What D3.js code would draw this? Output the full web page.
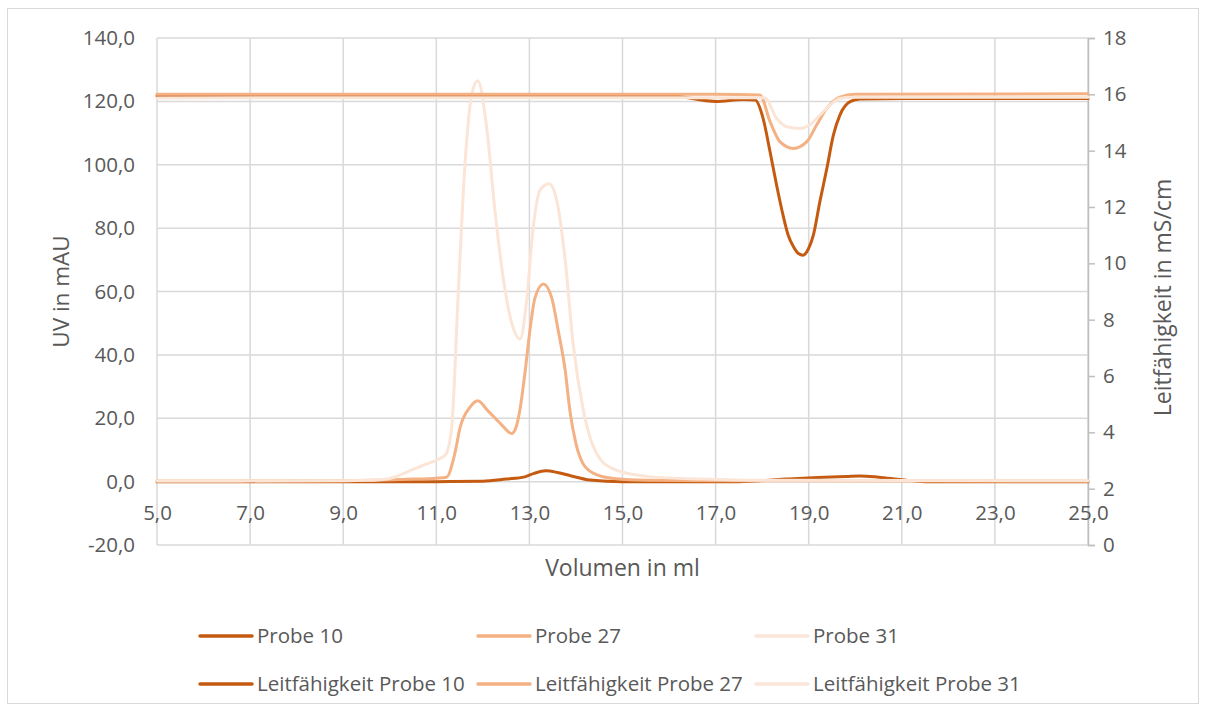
<!DOCTYPE html>
<html><head><meta charset="utf-8">
<script src="https://cdn.jsdelivr.net/npm/d3@7"></script>
<style>body{margin:0;background:#fff}svg{display:block}text{font-family:"Open Sans",Lato,sans-serif;fill:#595959}</style>
</head><body><svg id="c" width="1206" height="711"></svg>
<script>
// ---- data ----
const xTicks = [5,7,9,11,13,15,17,19,21,23,25];
const yLeftTicks = [-20,0,20,40,60,80,100,120,140];
const yRightTicks = [0,2,4,6,8,10,12,14,16,18];
const seriesNames = ["Probe 10","Probe 27","Probe 31"];
const condNames = ["Leitfähigkeit Probe 10","Leitfähigkeit Probe 27","Leitfähigkeit Probe 31"];

const uvVolume10 = [5,11,12,12.5,12.9,13.1,13.35,13.6,13.9,14.3,15,17.5,18.5,19.2,19.8,20.1,20.5,21.0,21.5,25];
const uvProbe10  = [0,0,0.1,0.8,1.5,2.6,3.4,2.9,1.8,0.5,0,0,0.8,1.3,1.6,1.8,1.4,0.6,0,0];

const uvVolume27 = [5,9,10.5,11.0,11.22,11.4,11.51,11.72,11.89,12.1,12.4,12.62,12.72,12.8,12.91,13.01,13.12,13.3,13.48,13.62,13.77,13.87,14.0,14.14,14.37,14.8,15.5,17,25];
const uvProbe27  = [0.2,0.3,0.8,1.1,1.4,9,17,23.4,25.5,22.5,18,15.2,17.5,23,35,47.6,58,62.4,58,47.6,35,22.4,12,6,2.7,1,0.4,0.3,0.2];

const uvVolume31 = [5,9,9.5,10,10.44,10.76,11.04,11.2,11.33,11.47,11.62,11.76,11.89,12.08,12.26,12.44,12.62,12.8,12.94,13.08,13.23,13.42,13.59,13.77,13.94,14.16,14.45,14.8,15.38,15.6,16.7,18,25];
const uvProbe31  = [0.2,0.3,0.4,1,3.5,5.4,7,8.5,17,59,101,122,126.5,112,85.5,64,50,45,57,80,92,94,88.6,69.7,43.4,22.4,8.7,4,1.9,1.5,0.8,0.4,0.3];

const condVolume10 = [5,14,16,17,17.6,17.85,18.02,18.17,18.31,18.45,18.56,18.67,18.78,18.88,18.99,19.1,19.24,19.39,19.53,19.67,19.89,20.1,21,25];
const condProbe10  = [15.95,15.95,15.95,15.75,15.82,15.8,15.15,13.96,12.78,11.7,11.0,10.6,10.35,10.29,10.5,11.0,12.19,13.37,14.55,15.26,15.74,15.83,15.85,15.85];

const condVolume27 = [5,10,15,17,17.95,18.17,18.38,18.67,18.96,19.17,19.39,19.67,20.0,25];
const condProbe27  = [16.0,16.0,16.0,16.0,15.98,15.03,14.32,14.08,14.32,14.91,15.5,15.9,16.0,16.02];

const condVolume31 = [5,10,15,17,18.05,18.31,18.53,18.81,19.02,19.24,19.46,19.67,19.95,25];
const condProbe31  = [15.87,15.88,15.88,15.88,15.88,15.15,14.85,14.79,14.91,15.26,15.62,15.85,15.9,15.9];

const colors = ["#C55A11","#F4B183","#FBE5D6"];

// ---- layout ----
const svg = d3.select("#c");
const L = 157, R = 1088, T = 38, B = 545;
const x = d3.scaleLinear().domain([5,25]).range([L,R]);
const yL = d3.scaleLinear().domain([-20,140]).range([B,T]);
const yR = d3.scaleLinear().domain([0,18]).range([B,T]);

svg.append("rect").attr("x",7.5).attr("y",8.5).attr("width",1191).attr("height",695)
  .attr("fill","#fff").attr("stroke","#d9d9d9").attr("stroke-width",1);

// gridlines
const g = svg.append("g");
g.selectAll(".vg").data(xTicks).join("line")
  .attr("x1",d=>x(d)).attr("x2",d=>x(d)).attr("y1",T).attr("y2",B)
  .attr("stroke","#d9d9d9").attr("stroke-width",1.5);
g.selectAll(".hg").data(yLeftTicks).join("line")
  .attr("x1",L).attr("x2",R).attr("y1",d=>yL(d)).attr("y2",d=>yL(d))
  .attr("stroke","#d9d9d9").attr("stroke-width",1.5);

const FS = 20.5;
// right axis
const rAxis = svg.append("g").attr("transform",`translate(${R},0)`)
  .call(d3.axisRight(yR).tickValues(yRightTicks).tickSize(7).tickPadding(8).tickFormat(d3.format("d")));
rAxis.select(".domain").attr("stroke","#bfbfbf").attr("stroke-width",1.5);
rAxis.selectAll(".tick line").attr("stroke","#bfbfbf").attr("stroke-width",1.5);
rAxis.selectAll("text").attr("font-size",FS).attr("fill","#595959").style("font-family","Open Sans");

// left axis labels
const fmt1 = d => d.toFixed(1).replace(".",",");
const lAxis = svg.append("g").attr("transform",`translate(${L},0)`)
  .call(d3.axisLeft(yL).tickValues(yLeftTicks).tickSize(0).tickPadding(22).tickFormat(fmt1));
lAxis.select(".domain").remove();
lAxis.selectAll("text").attr("font-size",FS).attr("fill","#595959").style("font-family","Open Sans");

// x axis labels, placed at y=0 line
const xAxis = svg.append("g").attr("transform",`translate(0,${yL(0)})`)
  .call(d3.axisBottom(x).tickValues(xTicks).tickSize(0).tickPadding(24).tickFormat(fmt1));
xAxis.select(".domain").remove();
xAxis.selectAll("text").attr("font-size",FS).attr("fill","#595959").style("font-family","Open Sans");

// titles
svg.append("text").attr("x",(L+R)/2).attr("y",576).attr("text-anchor","middle").attr("font-size",23).text("Volumen in ml");
svg.append("text").attr("transform",`translate(69,${(T+B)/2}) rotate(-90)`).attr("text-anchor","middle").attr("font-size",22.5).text("UV in mAU");
svg.append("text").attr("transform",`translate(1171,${(T+B)/2+6}) rotate(-90)`).attr("text-anchor","middle").attr("font-size",23).text("Leitfähigkeit in mS/cm");

// lines
const uvSets = [[uvVolume10,uvProbe10],[uvVolume27,uvProbe27],[uvVolume31,uvProbe31]];
const condSets = [[condVolume10,condProbe10],[condVolume27,condProbe27],[condVolume31,condProbe31]];
const crv = d3.curveMonotoneX;
const lineL = d3.line().x(d=>x(d[0])).y(d=>yL(d[1])).curve(crv);
const lineR = d3.line().x(d=>x(d[0])).y(d=>yR(d[1])).curve(crv);
uvSets.forEach((s,i)=>{
  svg.append("path").datum(d3.zip(s[0],s[1])).attr("d",lineL)
    .attr("fill","none").attr("stroke",colors[i]).attr("stroke-width",3).attr("stroke-linejoin","round").attr("stroke-linecap","round");
});
condSets.forEach((s,i)=>{
  svg.append("path").datum(d3.zip(s[0],s[1])).attr("d",lineR)
    .attr("fill","none").attr("stroke",colors[i]).attr("stroke-width",3).attr("stroke-linejoin","round").attr("stroke-linecap","round");
});

// legend
const legCols = [199,477,755];
const legRows = [636,684];
[seriesNames,condNames].forEach((names,r)=>{
  names.forEach((n,i)=>{
    const lg = svg.append("g");
    lg.append("line").attr("x1",legCols[i]+1).attr("x2",legCols[i]+53).attr("y1",legRows[r]).attr("y2",legRows[r])
      .attr("stroke",colors[i]).attr("stroke-width",3.5).attr("stroke-linecap","round");
    lg.append("text").attr("x",legCols[i]+58).attr("y",legRows[r]).attr("dy","0.35em").attr("font-size",FS).text(n);
  });
});
</script></body></html>
